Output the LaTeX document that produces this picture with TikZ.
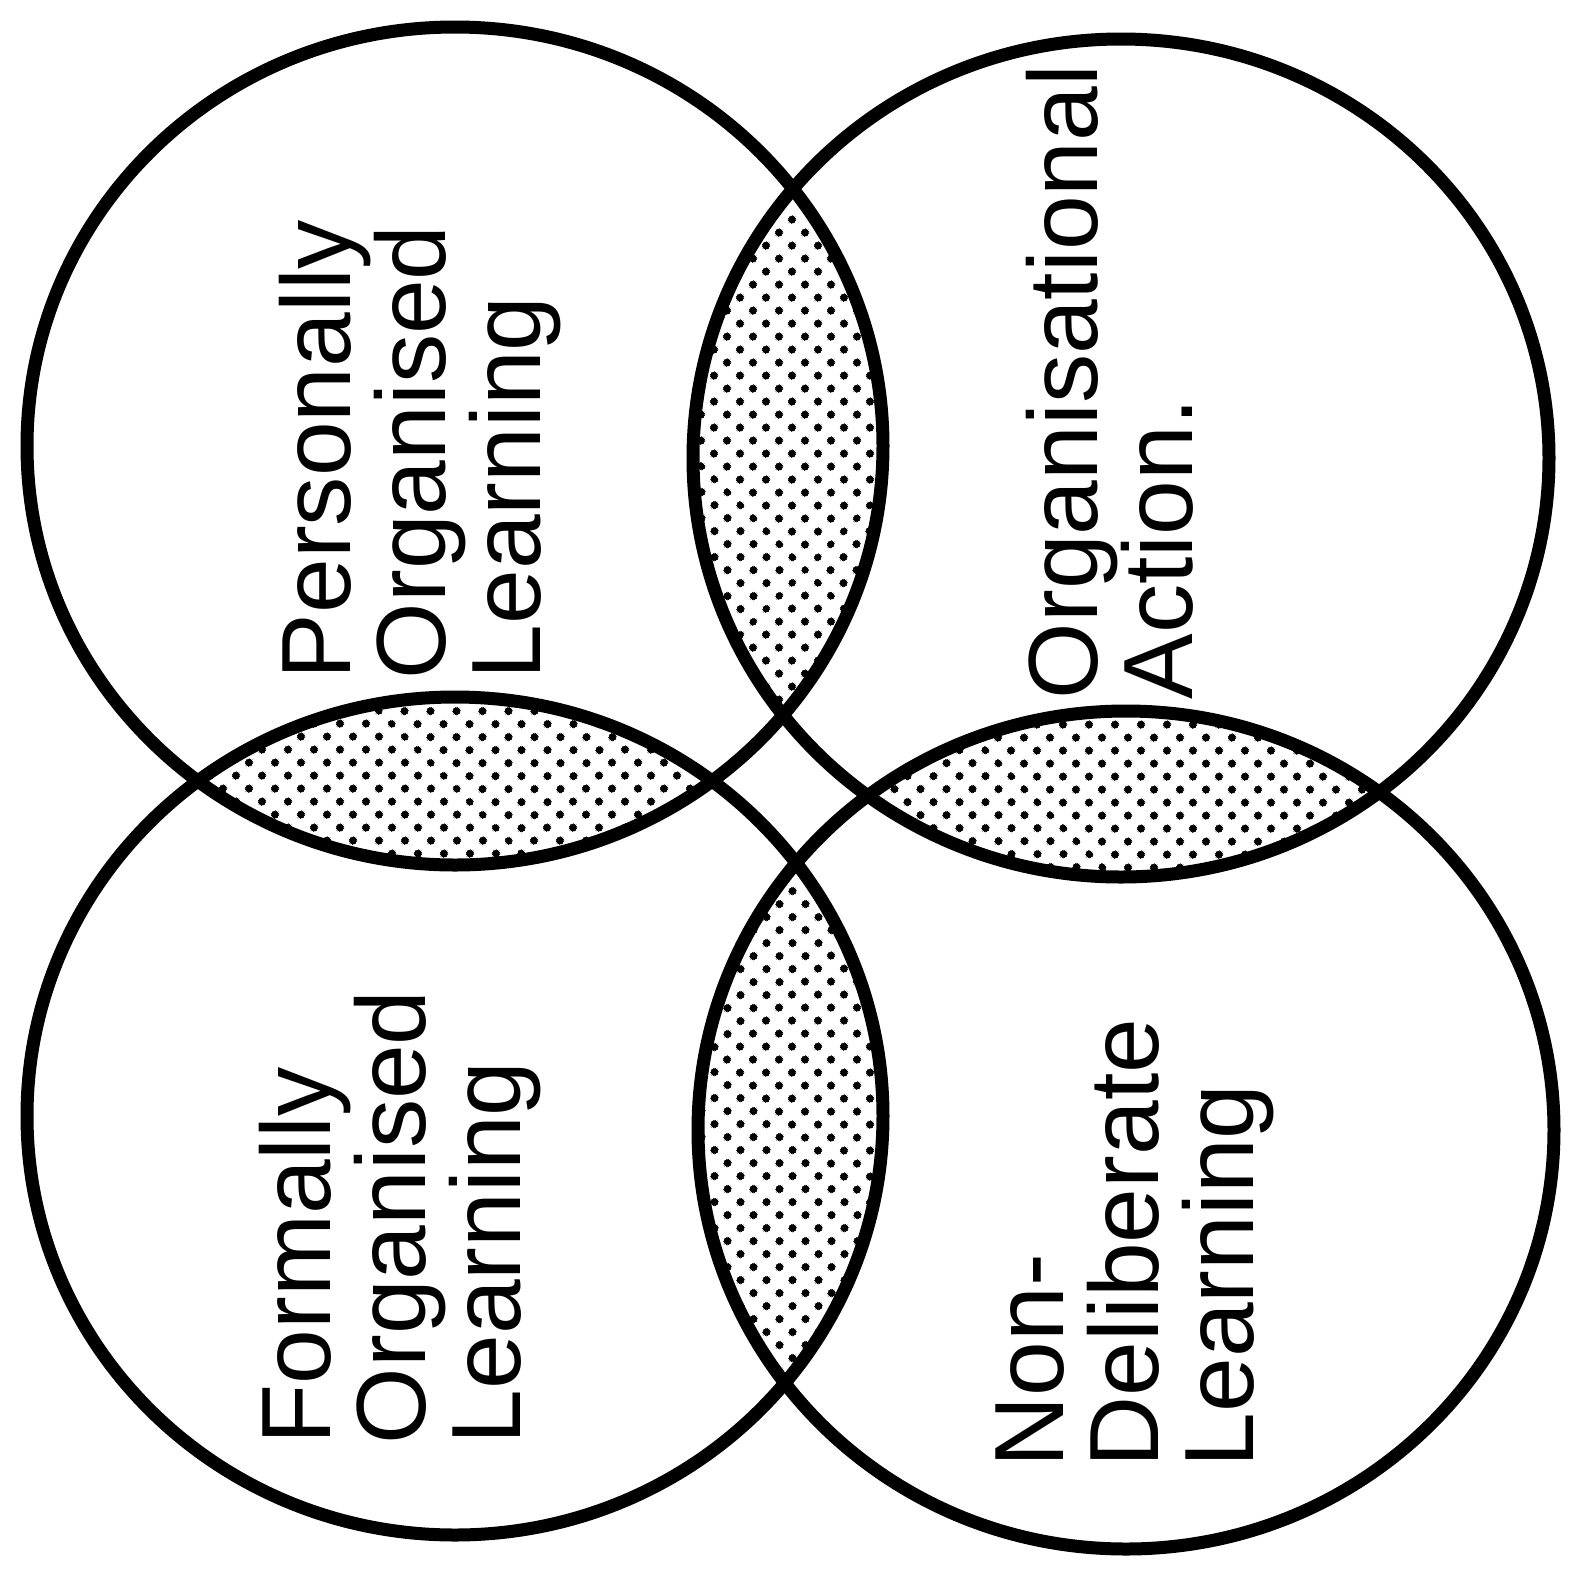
\documentclass[tikz,border=0pt]{standalone}
\usepackage{fontspec}
\setmainfont{Liberation Sans}
\usetikzlibrary{patterns.meta}

\begin{document}
\begin{tikzpicture}[
  x=0.1mm, y=-0.1mm,
  ring/.style={line width=1.3mm},
  lens/.style={pattern={Dots[distance=1.9mm, radius=0.42mm, angle=45]}},
  lbl/.style={rotate=90, anchor=west, align=left, inner sep=0pt,
              font=\fontsize{28}{27}\selectfont},
]
  \useasboundingbox (0,0) rectangle (1575,1577);

  % --- centres of the four circles ---
  \coordinate (tl) at (455,446);
  \coordinate (tr) at (1121,458);
  \coordinate (bl) at (455,1116);
  \coordinate (br) at (1126,1130);

  % --- dotted overlaps ---
  \begin{scope}
    \clip (tl) ellipse [x radius=428, y radius=419];
    \fill[lens] (tr) ellipse [x radius=428, y radius=419];
    \fill[lens] (bl) ellipse [x radius=428, y radius=419];
  \end{scope}
  \begin{scope}
    \clip (br) ellipse [x radius=428, y radius=419];
    \fill[lens] (tr) ellipse [x radius=428, y radius=419];
    \fill[lens] (bl) ellipse [x radius=428, y radius=419];
  \end{scope}

  % --- circles ---
  \draw[ring] (tl) ellipse [x radius=428, y radius=419];
  \draw[ring] (tr) ellipse [x radius=428, y radius=419];
  \draw[ring] (bl) ellipse [x radius=428, y radius=419];
  \draw[ring] (br) ellipse [x radius=428, y radius=419];

  % --- labels ---
  \node[lbl] (pol) at (420,680)  {Personally\\Organised\\Learning};
  \node[lbl] (oa)  at (1110,700) {Organisational\\Action.};
  \node[lbl] (fol) at (400,1445) {Formally\\Organised\\Learning};
  \node[lbl] (ndl) at (1135,1468) {Non-\\Deliberate\\Learning};
\end{tikzpicture}
\end{document}
